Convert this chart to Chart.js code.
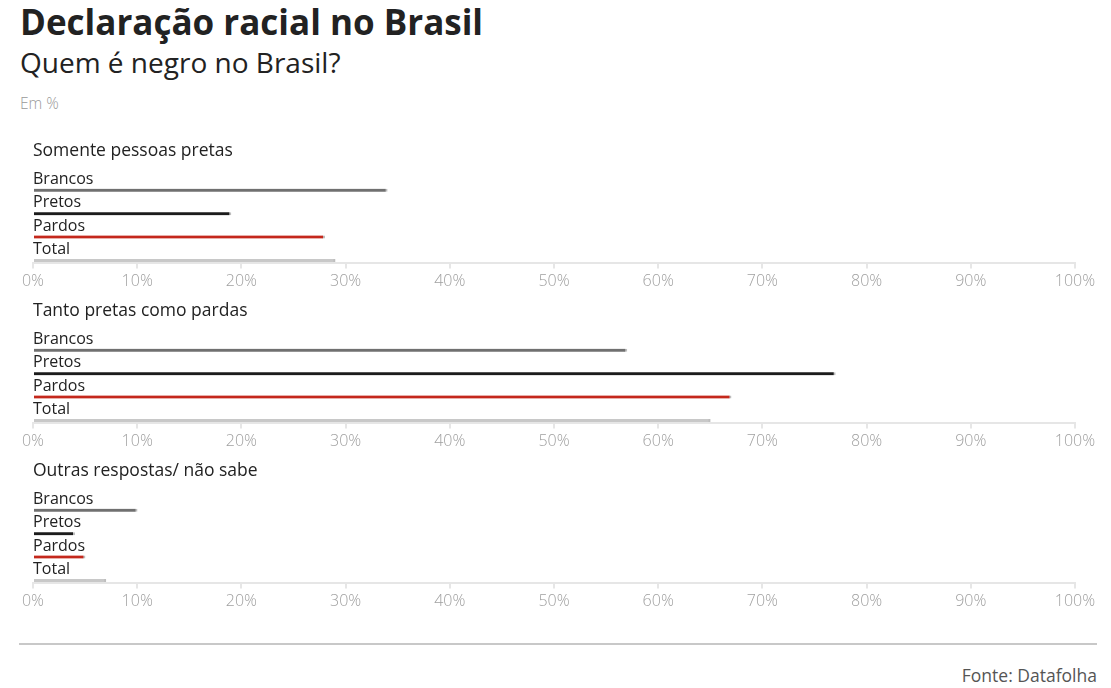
<!DOCTYPE html>
<html lang="pt-BR">
<head>
<meta charset="utf-8">
<script src="https://cdn.jsdelivr.net/npm/chart.js@4.4.1/dist/chart.umd.min.js"></script>
<style>
  body { margin: 0; background: #fff; font-family: "Open Sans", sans-serif; width: 1111px; height: 688px; position: relative; overflow: hidden; }
  .title { position: absolute; left: 20px; top: 1px; font-size: 35px; line-height: 42px; font-weight: 700; color: #222; }
  .subtitle { position: absolute; left: 20px; top: 44px; font-size: 28px; line-height: 36px; color: #222; }
  .unit { position: absolute; left: 20px; top: 93px; font-size: 15.5px; line-height: 20px; color: #999; font-weight: 300; }
  .rule { position: absolute; left: 19px; top: 643px; width: 1078px; height: 2px; background: #c8c8c8; }
  .source { position: absolute; right: 14px; top: 664px; font-size: 17.5px; line-height: 22px; color: #555; }
  canvas { position: absolute; left: 0; }
</style>
</head>
<body>
<div class="title">Declaração racial no Brasil</div>
<div class="subtitle">Quem é negro no Brasil?</div>
<div class="unit">Em %</div>
<canvas id="panel1" width="1111" height="160" style="top:138px"></canvas>
<canvas id="panel2" width="1111" height="160" style="top:298px"></canvas>
<canvas id="panel3" width="1111" height="160" style="top:458px"></canvas>
<div class="rule"></div>
<div class="source">Fonte: Datafolha</div>
<script>
const categories = ["Brancos", "Pretos", "Pardos", "Total"];
const headings = ["Somente pessoas pretas", "Tanto pretas como pardas", "Outras respostas/ não sabe"];
const somentePretas = [34, 19, 28, 29];
const pretasEPardas = [57, 77, 67, 65];
const outrasRespostas = [10, 4, 5, 7];
const barColors = ["#707070", "#1c1c1c", "#c4281c", "#c8c8c8"];

// category names above each bar + panel heading
const barLabels = {
  id: "barLabels",
  afterDatasetsDraw(chart, args, opts) {
    const ctx = chart.ctx;
    const y = chart.scales.y;
    const left = chart.chartArea.left;
    ctx.save();
    ctx.fillStyle = "#222";
    ctx.textBaseline = "middle";
    ctx.font = "17.5px 'Open Sans'";
    ctx.fillText(opts.heading, left, chart.chartArea.top + 13);
    ctx.font = "16px 'Open Sans'";
    categories.forEach((c, i) => {
      ctx.fillText(c, left, y.getPixelForValue(i) - 11);
    });
    ctx.restore();
  }
};

function makePanel(id, heading, values) {
  new Chart(document.getElementById(id), {
    type: "bar",
    data: {
      datasets: [
        {
          data: values.map((v, i) => ({ x: v, y: i })),
          backgroundColor: barColors,
          borderColor: "#bdbdbd",
          borderWidth: { right: 2 },
          borderSkipped: "start",
          barThickness: 3,
        },
      ],
    },
    options: {
      indexAxis: "y",
      responsive: false,
      animation: false,
      layout: { padding: { left: 33, right: 36, top: 0, bottom: 0 } },
      plugins: {
        legend: { display: false },
        tooltip: { enabled: false },
        barLabels: { heading: heading },
      },
      scales: {
        x: {
          min: 0,
          max: 100,
          afterFit: (s) => { s.height = 35.5; },
          grid: { drawOnChartArea: false, color: "#e6e6e6", tickLength: 6, lineWidth: 2 },
          border: { color: "#e6e6e6", width: 2 },
          ticks: {
            stepSize: 10,
            color: "#a0a0a0",
            padding: 3,
            maxRotation: 0,
            font: { family: "'Open Sans'", size: 16, weight: "300" },
            callback: (v) => v + "%",
          },
        },
        y: {
          type: "linear",
          reverse: true,
          offset: false,
          min: -2.24,
          max: 3.09,
          display: false,
        },
      },
    },
    plugins: [barLabels],
  });
}

makePanel("panel1", headings[0], somentePretas);
makePanel("panel2", headings[1], pretasEPardas);
makePanel("panel3", headings[2], outrasRespostas);
</script>
</body>
</html>
